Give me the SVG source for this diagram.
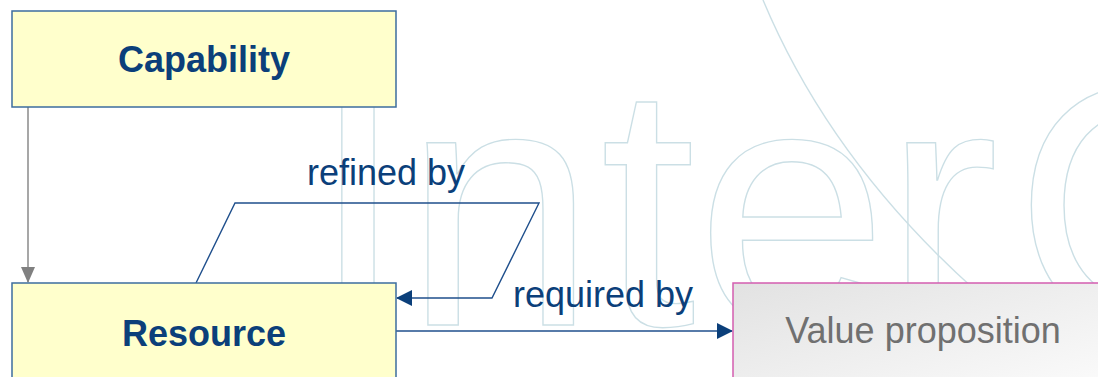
<svg xmlns="http://www.w3.org/2000/svg" width="1098" height="377" viewBox="0 0 1098 377">
  <style>
    .box { fill: #ffffcc; stroke: #3d6d9e; stroke-width: 1.5; }
    .title { font-family: "Liberation Sans", Arial, sans-serif; font-weight: bold; font-size: 36px; fill: #0b3f7a; text-anchor: middle; }
    .label { font-family: "Liberation Sans", Arial, sans-serif; font-size: 36px; fill: #0b3f7a; }
    .vp { font-family: "Liberation Sans", Arial, sans-serif; font-size: 36px; fill: #707070; text-anchor: middle; }
    .wm { fill: none; stroke: #cbdfe5; stroke-width: 1.4; }
    .link { fill: none; stroke: #1f4f8c; stroke-width: 1.4; }
    .gen { fill: none; stroke: #8a8a8a; stroke-width: 1.5; }
  </style>
  <defs>
    <linearGradient id="vpGrad" x1="0" y1="0" x2="1" y2="1">
      <stop offset="0" stop-color="#e2e2e2"/>
      <stop offset="1" stop-color="#fcfcfc"/>
    </linearGradient>
    <marker id="blueArrow" viewBox="0 0 16 16" refX="15" refY="8" markerWidth="16" markerHeight="16" markerUnits="userSpaceOnUse" orient="auto">
      <path d="M0,0 L16,8 L0,16 Z" fill="#0b3f7a"/>
    </marker>
    <marker id="grayArrow" viewBox="0 0 16 14" refX="15" refY="7" markerWidth="16" markerHeight="14" markerUnits="userSpaceOnUse" orient="auto">
      <path d="M0,0 L16,7 L0,14 Z" fill="#808080"/>
    </marker>
  </defs>

  <rect width="1098" height="377" fill="#ffffff"/>

  <g id="watermark">
    <text class="wm" x="310 404 600 696 884 1015" y="325" font-family="Liberation Sans, Arial, sans-serif" font-size="345">InterO</text>
    <path class="wm" d="M763,0 Q830,160 975,290"/>
  </g>

  <g id="connectors">
    <line class="gen" x1="28" y1="107" x2="28" y2="282" marker-end="url(#grayArrow)"/>
    <polyline class="link" points="196,283 235,203 539,203 492,298 397,298" marker-end="url(#blueArrow)"/>
    <line class="link" x1="396" y1="331" x2="732" y2="331" marker-end="url(#blueArrow)"/>
    <text class="label" x="307" y="185">refined by</text>
    <text class="label" x="513" y="307">required by</text>
  </g>

  <g id="capability">
    <rect class="box" x="12" y="11" width="384" height="96"/>
    <text class="title" x="204" y="72">Capability</text>
  </g>

  <g id="resource">
    <rect class="box" x="12" y="283" width="384" height="110"/>
    <text class="title" x="204" y="346">Resource</text>
  </g>

  <g id="value-proposition">
    <rect x="733" y="283" width="384" height="110" fill="url(#vpGrad)" stroke="#d45db0" stroke-width="1.5"/>
    <text class="vp" x="923" y="343">Value proposition</text>
  </g>
</svg>
